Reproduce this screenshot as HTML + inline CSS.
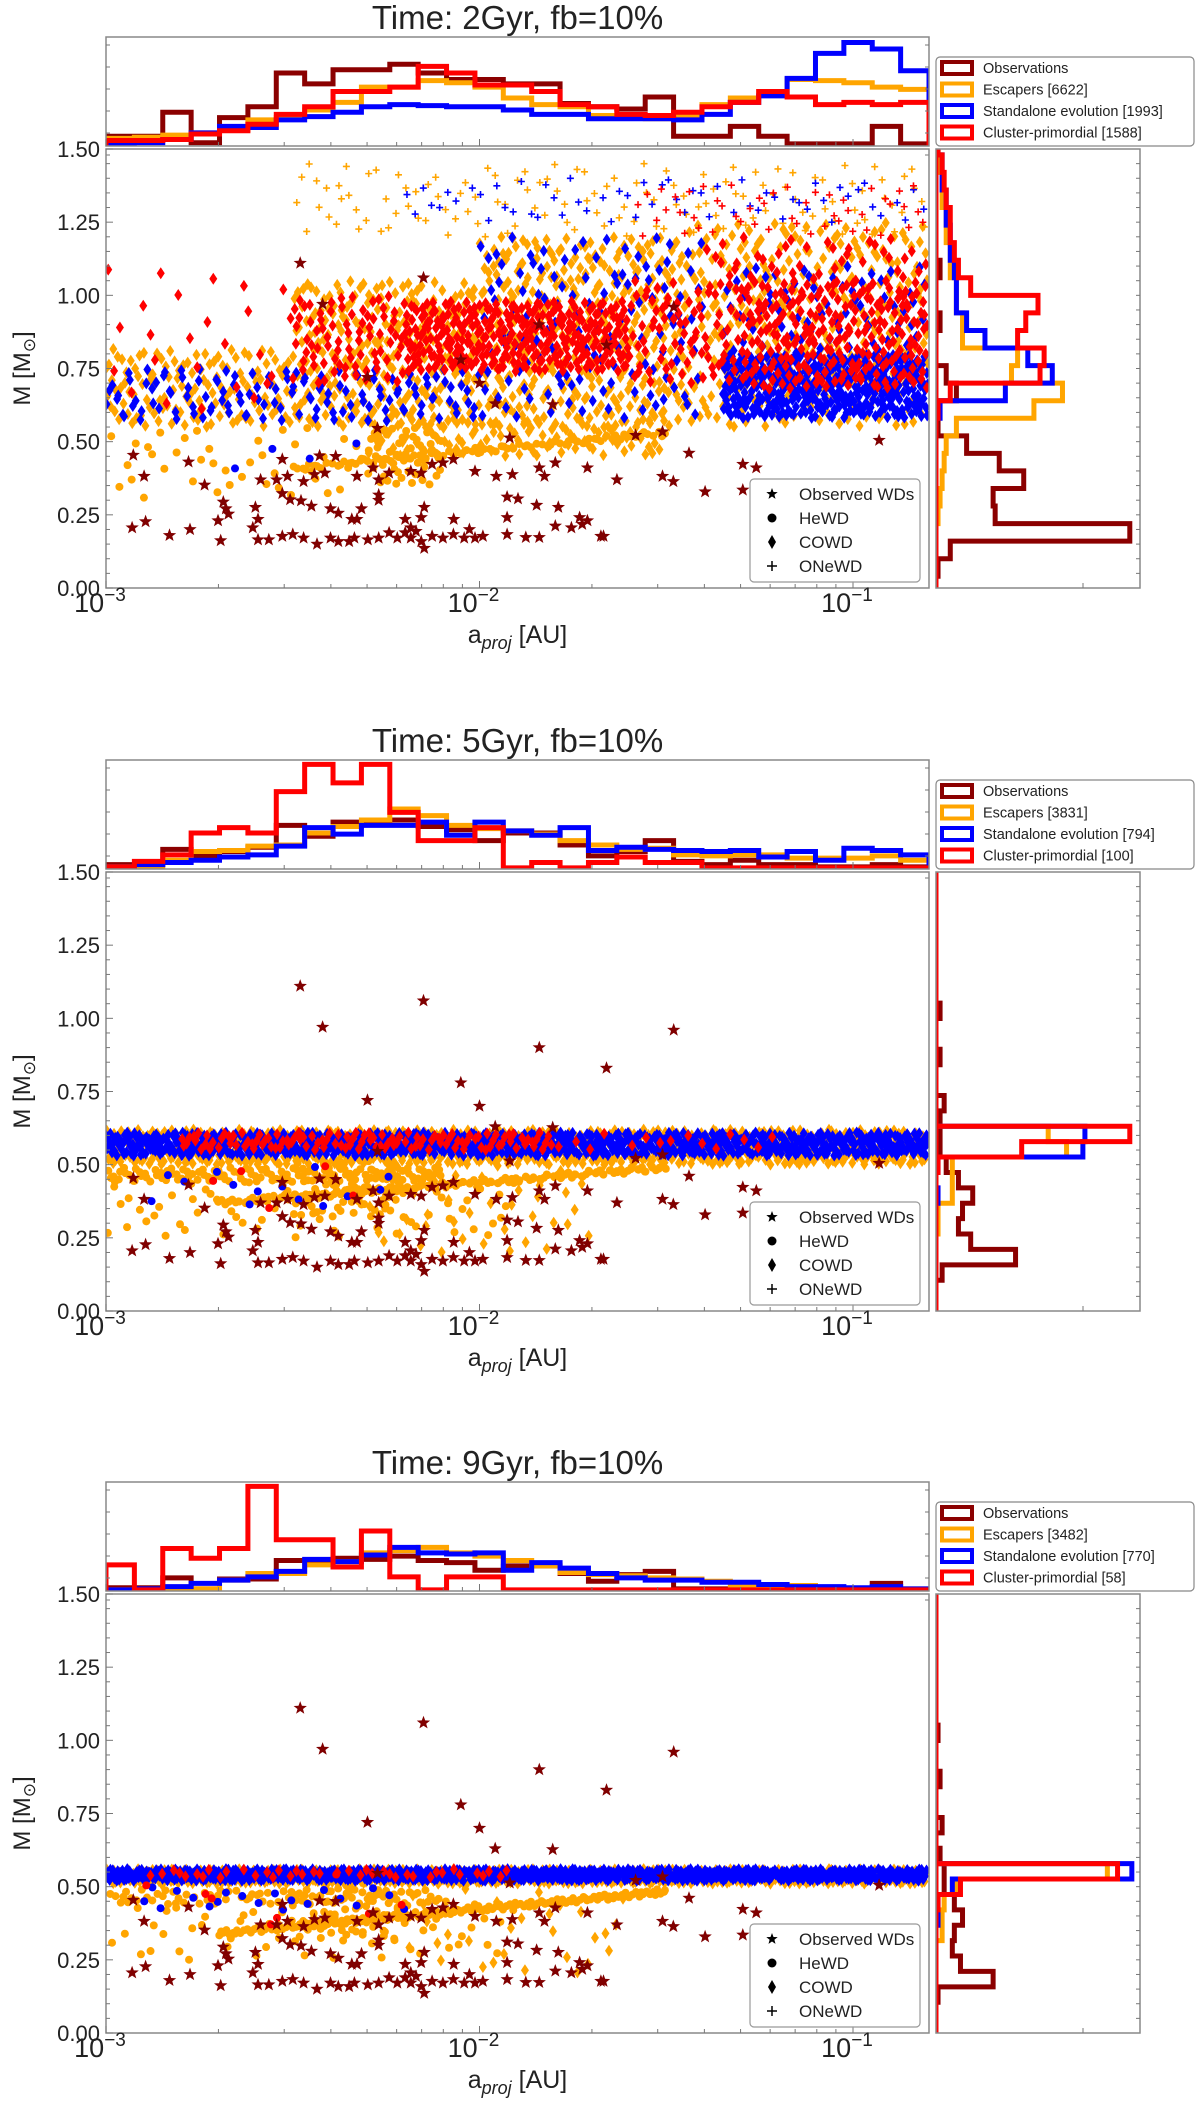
<!DOCTYPE html>
<html><head><meta charset="utf-8"><style>
html,body{margin:0;padding:0;background:#fff;}
svg{display:block;font-family:"Liberation Sans","DejaVu Sans",sans-serif;}
</style></head><body>
<svg id="fig" xmlns="http://www.w3.org/2000/svg" width="1200" height="2101" viewBox="0 0 1200 2101"></svg>
<script>
// ---------------- DATA ----------------
const panelTitles = ['Time: 2Gyr, fb=10%','Time: 5Gyr, fb=10%','Time: 9Gyr, fb=10%'];
const escLabels = ['Escapers [6622]','Escapers [3831]','Escapers [3482]'];
const stdLabels = ['Standalone evolution [1993]','Standalone evolution [794]','Standalone evolution [770]'];
const cpLabels = ['Cluster-primordial [1588]','Cluster-primordial [100]','Cluster-primordial [58]'];
const yTicks = [0,0.25,0.5,0.75,1.0,1.25,1.5];
const yTickLabels = ['0.00','0.25','0.50','0.75','1.00','1.25','1.50'];
const xTickExps = [-3,-2,-1];

// top histograms (29 log bins 1e-3 .. 0.16), % of panel height
const obsTop1 = [9,9,31,3,26,36,67,57,70,70,75,67,61,61,57,57,39,36,34,45,9,9,18,9,2,2,2,18,2];
const escTop1 = [7,8,10,12,15,24,26,33,40,54,54,60,58,54,44,38,36,28,26,25,27,38,44,50,61,60,58,54,52];
const stdTop1 = [2,3,6,12,18,17,24,27,31,36,38,37,36,36,33,29,29,25,25,25,24,29,40,46,62,85,95,89,69];
const cpTop1  = [5,5,6,11,14,20,29,36,50,50,54,73,67,56,56,50,38,36,29,28,31,36,40,50,45,38,40,38,40];
const obsTop2 = [4,4,18,12,16,20,40,30,43,43,45,39,36,26,33,33,22,12,16,26,7,4,8,4,4,2,2,4,2];
const escTop2 = [2,2,8,16,17,21,22,33,39,45,55,49,40,37,35,32,26,22,18,19,13,12,13,13,10,10,10,12,8];
const stdTop2 = [2,4,6,8,11,13,21,38,32,40,40,43,31,43,35,31,38,17,20,18,17,16,17,11,16,8,19,17,13];
const cpTop2  = [2,7,13,33,38,33,71,96,79,96,52,26,26,38,1,6,1,6,11,6,6,1,1,1,1,1,1,1,1];
const obsTop3 = [3,3,12,2,11,11,28,28,30,29,32,28,26,19,23,23,16,9,15,18,2,2,2,2,1,1,1,7,1];
const escTop3 = [1,1,1,2,10,16,16,24,27,35,37,40,35,32,28,23,17,15,14,12,11,9,4,5,5,3,2,2,2];
const stdTop3 = [1,2,4,7,10,13,18,29,27,33,40,35,34,35,19,26,21,16,12,10,10,8,8,6,4,4,3,4,2];
const cpTop3  = [24,1,39,30,39,96,47,47,22,55,13,1,13,13,1,1,1,1,1,1,1,1,1,1,1,1,1,1,1];

// right histograms (mass bins), % of panel width
const rBinStart = [0.04,0.0,0.0];
const rBinWidth = [0.06,0.0526,0.0526];
const obsRight1 = [1,7,95,29,28,43,31,15,1,1,10,5,0,0,2,0,0,2,0,0,0,0,0,0,0];
const escRight1 = [0,0,0,1,2,3,4,5,10,48,62,37,40,13,13,10,10,7,7,5,5,3,3,2,1];
const stdRight1 = [0,0,0,0,0,0,0,0,0,2,34,57,45,24,15,10,10,9,7,7,5,5,3,3,1];
const cpRight1  = [0,0,0,0,0,0,0,0,0,1,7,51,53,40,44,50,17,11,9,7,7,5,4,3,1];
const obsRight2 = [0,0,3,39,17,11,13,18,11,5,2,2,2,4,0,0,2,0,0,2,0,0,0,0,0,0,0,0];
const escRight2 = [0,0,0,0,0,1,1,8,8,8,64,55,0,0,0,0,0,0,0,0,0,0,0,0,0,0,0,0];
const stdRight2 = [0,0,0,0,0,0,0,1,0,1,72,73,0,0,0,0,0,0,0,0,0,0,0,0,0,0,0,0];
const cpRight2  = [0,0,0,0,0,0,0,0,0,1,42,95,0,0,0,0,0,0,0,0,0,0,0,0,0,0,0,0];
const obsRight3 = [0,0,1,28,12,8,9,13,9,4,4,2,0,3,0,0,2,0,0,1,0,0,0,0,0,0,0,0];
const escRight3 = [0,0,0,0,0,0,3,3,4,10,84,0,0,0,0,0,0,0,0,0,0,0,0,0,0,0,0,0];
const stdRight3 = [0,0,0,0,0,0,0,1,1,8,96,0,0,0,0,0,0,0,0,0,0,0,0,0,0,0,0,0];
const cpRight3  = [0,0,0,0,0,0,0,0,1,12,89,0,0,0,0,0,0,0,0,0,0,0,0,0,0,0,0,0];

// observed WDs: log10(a_proj), mass
const obsLogA = [-2.48,-2.42,-2.15,-1.84,-1.66,-1.48,-2.05,-2.3,-2.0,
 -2.927,-2.779,-1.958,-1.804,-2.273,-1.919,-1.582,-1.510,-1.439,-0.930,
 -2.898,-2.736,-2.586,-2.528,-2.428,-2.385,-2.543,-2.514,-2.471,-2.442,-2.414,-2.328,-2.285,-2.270,-2.242,-2.184,-2.156,-2.127,-2.098,-2.070,-2.012,-1.955,-1.912,-1.840,-1.826,-1.797,-1.711,-1.632,-1.510,-1.481,-1.295,-1.259,-1.396,-1.295,
 -2.930,-2.894,-2.830,-2.775,-2.693,-2.700,-2.679,-2.672,-2.686,-2.600,-2.593,-2.607,-2.528,-2.507,-2.478,-2.450,-2.399,-2.378,-2.328,-2.316,-2.342,-2.270,-2.270,-2.199,-2.148,-2.069,-2.027,-1.926,-1.897,-1.847,-1.789,-1.732,-1.675,-1.668,-1.754,-1.725,-1.711,-1.797,-1.926,
 -2.593,-2.564,-2.528,-2.500,-2.471,-2.435,-2.399,-2.378,-2.349,-2.335,-2.299,-2.270,-2.242,-2.220,-2.199,-2.184,-2.170,-2.156,-2.148,-2.127,-2.098,-2.070,-2.041,-2.012,-1.991,-1.926,-1.876,-1.840,-2.184,-2.156];
const obsMass = [1.11,0.97,1.06,0.90,0.83,0.96,0.78,0.72,0.70,
 0.454,0.431,0.630,0.627,0.546,0.513,0.522,0.534,0.461,0.505,
 0.382,0.352,0.370,0.440,0.452,0.450,0.370,0.382,0.364,0.388,0.393,0.382,0.411,0.370,0.393,0.399,0.393,0.423,0.428,0.440,0.399,0.382,0.388,0.411,0.382,0.428,0.411,0.370,0.382,0.364,0.423,0.411,0.329,0.335,
 0.206,0.227,0.180,0.200,0.162,0.230,0.271,0.253,0.294,0.276,0.235,0.206,0.323,0.302,0.298,0.280,0.271,0.256,0.235,0.271,0.235,0.318,0.300,0.235,0.276,0.235,0.200,0.311,0.305,0.283,0.276,0.241,0.177,0.177,0.206,0.218,0.230,0.212,0.241,
 0.165,0.165,0.177,0.183,0.171,0.150,0.171,0.159,0.159,0.171,0.165,0.171,0.189,0.171,0.189,0.171,0.194,0.159,0.136,0.177,0.171,0.183,0.171,0.171,0.177,0.183,0.173,0.173,0.206,0.241];

// simulated WD clouds: [series, type, log a min, log a max, M min, M max, count, slope dM/dlog a]
const clouds1 = [
 ['esc','co',-3,-2.5,0.55,0.82,130,0],['esc','co',-2.5,-2.0,0.55,1.05,260,0],['esc','co',-2.0,-1.45,0.55,1.2,360,0],
 ['esc','co',-1.45,-0.8,0.55,1.25,320,0],['esc','co',-2.3,-1.5,0.45,0.58,100,0],['esc','he',-3,-2.3,0.3,0.55,40,0],
 ['esc','he',-2.5,-1.5,0.40,0.42,90,0.12],['esc','he',-2.3,-2.1,0.35,0.55,50,0],['esc','on',-2.5,-0.8,1.2,1.45,130,0],
 ['std','co',-3,-2.0,0.57,0.75,130,0],['std','co',-2.0,-1.4,0.58,1.2,130,0],['std','co',-1.35,-0.8,0.58,0.8,360,0],
 ['std','co',-1.35,-0.8,0.8,1.1,70,0],['std','on',-2.2,-0.8,1.25,1.4,60,0],['std','he',-2.7,-2.3,0.4,0.5,4,0],
 ['cp','co',-3,-2.5,0.6,1.1,25,0],['cp','co',-2.5,-2.2,0.7,1.0,80,0],['cp','co',-2.2,-1.6,0.74,0.98,320,0],
 ['cp','co',-1.6,-1.3,0.7,1.05,80,0],['cp','co',-1.3,-0.8,0.68,1.05,240,0],['cp','co',-1.4,-0.8,1.05,1.2,40,0],
 ['cp','on',-1.6,-0.8,1.2,1.38,50,0]];
const clouds2 = [
 ['esc','co',-3,-0.8,0.5,0.62,800,0],['esc','co',-2.3,-1.7,0.2,0.5,40,0],['esc','he',-3,-2.1,0.44,0.49,120,0],
 ['esc','he',-2.7,-1.5,0.36,0.38,170,0.1],['esc','he',-3,-1.9,0.25,0.45,70,0],['esc','he',-2.5,-2.2,0.32,0.52,60,0],
 ['std','co',-3,-0.8,0.53,0.61,800,0],['std','he',-2.9,-2.2,0.35,0.5,14,0],
 ['cp','co',-2.8,-1.8,0.55,0.61,120,0],['cp','co',-1.8,-1.2,0.55,0.61,15,0],['cp','he',-2.8,-2.2,0.35,0.5,5,0]];
const clouds3 = [
 ['esc','co',-3,-0.8,0.51,0.56,650,0],['esc','co',-2.2,-1.6,0.2,0.5,30,0],['esc','he',-3,-2.1,0.44,0.49,80,0],
 ['esc','he',-2.7,-1.5,0.33,0.35,170,0.12],['esc','he',-3,-1.9,0.25,0.45,60,0],['esc','he',-2.5,-2.2,0.32,0.5,50,0],
 ['std','co',-3,-0.8,0.52,0.56,750,0],['std','he',-2.9,-2.2,0.42,0.5,20,0],
 ['cp','co',-2.9,-1.9,0.53,0.56,40,0],['cp','he',-2.9,-2.2,0.35,0.55,8,0]];

// ---------------- DRAWING ----------------
const NS='http://www.w3.org/2000/svg';
const svg=document.getElementById('fig');
const COL={obs:'#8b0000',esc:'#ffa500',std:'#0000ff',cp:'#ff0000'};
const L=106,R=929,LOGMIN=-3,DEC=373.5,LOGMAX=-3+(R-L)/DEC;
const RHL=936,RHR=1140;
function el(tag,attrs,parent){const e=document.createElementNS(NS,tag);for(const k in attrs)e.setAttribute(k,attrs[k]);(parent||svg).appendChild(e);return e;}
function halton(i,b){let f=1,r=0;while(i>0){f/=b;r+=f*(i%b);i=Math.floor(i/b);}return r;}

const tops=[[obsTop1,escTop1,stdTop1,cpTop1],[obsTop2,escTop2,stdTop2,cpTop2],[obsTop3,escTop3,stdTop3,cpTop3]];
const rights=[[obsRight1,escRight1,stdRight1,cpRight1],[obsRight2,escRight2,stdRight2,cpRight2],[obsRight3,escRight3,stdRight3,cpRight3]];
const cloudsAll=[clouds1,clouds2,clouds3];
const offsets=[0,723,1445];

offsets.forEach((off,p)=>{
  const hT=37+off,hB=146+off,mT=149+off,mB=588+off;
  const xs=lg=>L+(lg-LOGMIN)*DEC;
  const ys=m=>mB-(m/1.5)*(mB-mT);
  const g=el('g',{});
  
  
  const cid='clipM'+p, cidT='clipT'+p, cidR='clipR'+p;
  const defs=el('defs',{},g);
  const c1=el('clipPath',{id:cid},defs);el('rect',{x:L,y:mT,width:R-L,height:mB-mT},c1);
  const c2=el('clipPath',{id:cidT},defs);el('rect',{x:L,y:hT,width:R-L,height:hB-hT},c2);
  const c3=el('clipPath',{id:cidR},defs);el('rect',{x:RHL,y:mT,width:RHR-RHL,height:mB-mT},c3);

  const t=el('text',{x:(L+R)/2,y:29+off,'font-size':33,'text-anchor':'middle',fill:'#222'},g);
  t.textContent=panelTitles[p];
  
  

  // ---- top histogram
  const th=el('g',{'clip-path':'url(#'+cidT+')'},g);
  
  
  const nb=29,bw=(LOGMAX-LOGMIN)/nb;
  ['obs','esc','std','cp'].forEach((s,si)=>{
    const v=tops[p][si];
    const yv=x=>hB-x/100*(hB-hT);
    let d='M'+xs(LOGMIN)+','+hB;
    v.forEach((val,i)=>{d+=' L'+xs(LOGMIN+i*bw)+','+yv(val)+' L'+xs(LOGMIN+(i+1)*bw)+','+yv(val);});
    d+=' L'+xs(LOGMIN+v.length*bw)+','+hB;
    const path=el('path',{d:d,fill:'none',stroke:COL[s],'stroke-width':5,'stroke-linejoin':'miter'},th);
    
    
  });
  el('rect',{x:L,y:hT,width:R-L,height:hB-hT,fill:'none',stroke:'#888','stroke-width':1.5},g);
  for(let k=0;k<6;k++){const yy=hT+8+k*22;el('line',{x1:L,y1:yy,x2:L+4,y2:yy,stroke:'#777','stroke-width':1},g);el('line',{x1:R,y1:yy,x2:R-4,y2:yy,stroke:'#777','stroke-width':1},g);}

  // ---- main scatter
  const sc=el('g',{'clip-path':'url(#'+cid+')'},g);
  
  
  let k=1;
  cloudsAll[p].forEach(c=>{
    const [s,type,x0,x1,m0,m1,n,slope]=c;
    for(let i=0;i<n;i++,k++){
      const lx=x0+halton(k,2)*(x1-x0);
      const m=m0+halton(k,3)*(m1-m0)+slope*(lx-x0);
      const px=xs(lx),py=ys(m);
      let mk;
      if(type==='co'){mk=el('path',{d:'M'+px+','+(py-6)+'L'+(px+4)+','+py+'L'+px+','+(py+6)+'L'+(px-4)+','+py+'Z',fill:COL[s]},sc);}
      else if(type==='he'){mk=el('circle',{cx:px,cy:py,r:4,fill:COL[s]},sc);}
      else {mk=el('path',{d:'M'+(px-3.5)+','+py+'H'+(px+3.5)+'M'+px+','+(py-3.5)+'V'+(py+3.5),stroke:COL[s],'stroke-width':1.6},sc);}
      
      
    }
  });
  function starPath(cx,cy,ro,ri){let d='';for(let i=0;i<10;i++){const a=-Math.PI/2+i*Math.PI/5,r=i%2?ri:ro;d+=(i?'L':'M')+(cx+r*Math.cos(a)).toFixed(1)+','+(cy+r*Math.sin(a)).toFixed(1);}return d+'Z';}
  obsLogA.forEach((lx,i)=>{
    const st=el('path',{d:starPath(xs(lx),ys(obsMass[i]),7,2.9),fill:'#800000'},sc);
    
    
  });
  el('rect',{x:L,y:mT,width:R-L,height:mB-mT,fill:'none',stroke:'#888','stroke-width':1.5},g);
  for(let v=0;v<=150;v+=5){const yy=ys(v/100);const len=(v%25===0)?7:4;el('line',{x1:L,y1:yy,x2:L+len,y2:yy,stroke:'#777','stroke-width':1},g);}
  yTicks.forEach((v,i)=>{
    const tx=el('text',{x:100,y:ys(v)+8,'font-size':22,'text-anchor':'end',fill:'#222'},g);
    tx.textContent=yTickLabels[i];
    
    
  });
  for(let d=-3;d<=-1;d++){for(let m=1;m<10;m++){const lx=d+Math.log10(m);if(lx>LOGMAX)continue;const xx=xs(lx);const len=m===1?7:4;
    el('line',{x1:xx,y1:mB,x2:xx,y2:mB-len,stroke:'#777','stroke-width':1},g);
    el('line',{x1:xx,y1:hB,x2:xx,y2:hB-len,stroke:'#777','stroke-width':1},g);}}
  xTickExps.forEach(e=>{
    const tx=el('text',{x:xs(e)-6,y:mB+24,'font-size':27,'text-anchor':'middle',fill:'#222'},g);
    tx.textContent='10';
    const sp=el('tspan',{'font-size':19,dy:-11},tx);sp.textContent='\u2212'+Math.abs(e);
    
    
  });
  const xl=el('text',{x:(L+R)/2,y:mB+55,'font-size':25,'text-anchor':'middle',fill:'#222'},g);
  xl.textContent='a';const xs1=el('tspan',{'font-size':18,'font-style':'italic',dy:6},xl);xs1.textContent='proj';
  const xs2=el('tspan',{dy:-6},xl);xs2.textContent=' [AU]';
  
  
  const yl=el('text',{x:0,y:0,'font-size':24,'text-anchor':'middle',fill:'#222',transform:'translate(30,'+((mT+mB)/2)+') rotate(-90)'},g);
  yl.textContent='M [M';const ys1=el('tspan',{'font-size':17,dy:5},yl);ys1.textContent='\u2299';
  const ys2=el('tspan',{dy:-5},yl);ys2.textContent=']';
  
  

  const lg=el('g',{},g);
  
  
  el('rect',{x:750,y:479+off,width:170,height:103,rx:4,fill:'#fff','fill-opacity':0.85,stroke:'#999','stroke-width':1.2},lg);
  const items=[['star','Observed WDs'],['he','HeWD'],['co','COWD'],['on','ONeWD']];
  items.forEach((it,i)=>{
    const yy=494+off+i*24,mx=772;
    if(it[0]==='star')el('path',{d:starPath(mx,yy,6,2.5),fill:'#000'},lg);
    else if(it[0]==='he')el('circle',{cx:mx,cy:yy,r:4.5,fill:'#000'},lg);
    else if(it[0]==='co')el('path',{d:'M'+mx+','+(yy-7)+'L'+(mx+4)+','+yy+'L'+mx+','+(yy+7)+'L'+(mx-4)+','+yy+'Z',fill:'#000'},lg);
    else el('path',{d:'M'+(mx-5)+','+yy+'H'+(mx+5)+'M'+mx+','+(yy-5)+'V'+(yy+5),stroke:'#000','stroke-width':1.5},lg);
    const tx=el('text',{x:799,y:yy+6,'font-size':17,fill:'#222'},lg);tx.textContent=it[1];
    
    
  });

  const rh=el('g',{'clip-path':'url(#'+cidR+')'},g);
  
  
  const xr=v=>RHL+v/100*(RHR-RHL);
  ['obs','esc','std','cp'].forEach((s,si)=>{
    const v=rights[p][si];const st=rBinStart[p],w=rBinWidth[p];
    let d='M'+RHL+','+ys(st);
    v.forEach((val,i)=>{d+=' L'+xr(val)+','+ys(st+i*w)+' L'+xr(val)+','+ys(st+(i+1)*w);});
    d+=' L'+RHL+','+ys(st+v.length*w);
    const path=el('path',{d:d,fill:'none',stroke:COL[s],'stroke-width':5},rh);
    
    
  });
  el('line',{x1:RHL+1,y1:mT,x2:RHL+1,y2:mB,stroke:'#ff0000','stroke-width':3},g);
  el('rect',{x:RHL,y:mT,width:RHR-RHL,height:mB-mT,fill:'none',stroke:'#888','stroke-width':1.5},g);
  el('line',{x1:1083,y1:mB,x2:1083,y2:mB-5,stroke:'#777','stroke-width':1},g);
  for(let v=5;v<150;v+=5){const yy=ys(v/100);el('line',{x1:RHR,y1:yy,x2:RHR-4,y2:yy,stroke:'#777','stroke-width':1},g);}

  const hl=el('g',{},g);
  
  
  el('rect',{x:936,y:57+off,width:258,height:89,rx:4,fill:'#fff',stroke:'#888','stroke-width':1.2},hl);
  const hItems=[['obs','Observations'],['esc',escLabels[p]],['std',stdLabels[p]],['cp',cpLabels[p]]];
  hItems.forEach((it,i)=>{
    const yy=68+off+i*21.5;
    el('rect',{x:942,y:yy-6,width:30,height:12,fill:'#fff',stroke:COL[it[0]],'stroke-width':4},hl);
    const tx=el('text',{x:983,y:yy+5,'font-size':14.5,fill:'#222'},hl);tx.textContent=it[1];
    
    
  });
});
</script>
</body></html>
